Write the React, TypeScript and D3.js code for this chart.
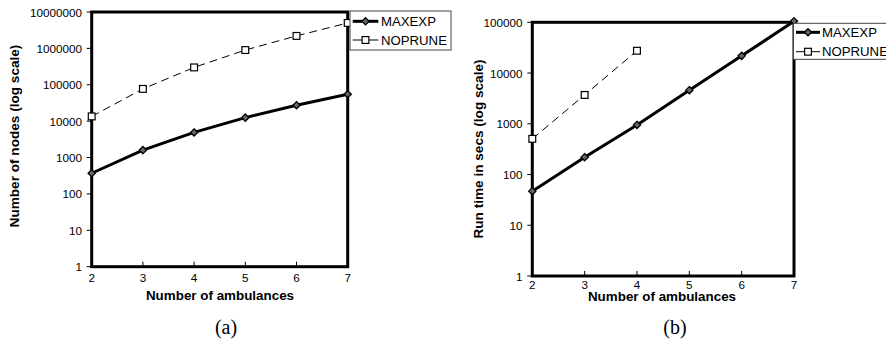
import React from "react";
import * as d3 from "d3";

const ambulances = [2, 3, 4, 5, 6, 7];
const ambulancesNopruneNodes = [2, 3, 4, 5, 6, 7];
const ambulancesNopruneTime = [2, 3, 4];
const nodesMaxexp = [370, 1600, 4900, 12500, 27500, 55000];
const nodesNoprune = [13500, 77000, 300000, 900000, 2200000, 5000000];
const timeMaxexp = [47, 220, 950, 4600, 21800, 105000];
const timeNoprune = [505, 3700, 27500];
const nodesTicks = [1, 10, 100, 1000, 10000, 100000, 1000000, 10000000];
const timeTicks = [1, 10, 100, 1000, 10000, 100000];
const seriesNames = ["MAXEXP", "NOPRUNE"];

const SANS = "Arial, 'Liberation Sans', sans-serif";
const SERIF = "'Times New Roman', 'Liberation Serif', serif";

function Diamond({ x, y }: { x: number; y: number }) {
  const s = 3.6;
  return (
    <path
      d={`M${x},${y - s}L${x + s},${y}L${x},${y + s}L${x - s},${y}Z`}
      fill="#666"
      stroke="#000"
      strokeWidth={1.3}
    />
  );
}

function Square({ x, y }: { x: number; y: number }) {
  const s = 3.4;
  return <rect x={x - s} y={y - s} width={2 * s} height={2 * s} fill="#fff" stroke="#000" strokeWidth={1.2} />;
}

type PanelProps = {
  x0: number; x1: number; yTop: number; yBot: number;
  yMax: number; ticks: number[];
  maxexp: number[]; noprune: number[]; nopruneX: number[];
  tickLabelRight: number; xLabelY: number;
  yTitle: string; yTitleX: number; yTitleY: number;
  xTitleX: number; xTitleY: number;
  caption: string; captionX: number;
  legend: { x: number; y: number; w: number; h: number; r1: number; r2: number; l0: number; l1: number; tx: number };
};

function Panel(p: PanelProps) {
  const x = d3.scaleLinear().domain([2, 7]).range([p.x0, p.x1]);
  const y = d3.scaleLog().domain([1, p.yMax]).range([p.yBot, p.yTop]);
  const lineM = d3.line<number>().x((_, i) => x(ambulances[i])).y((d) => y(d));
  const lineN = d3.line<number>().x((_, i) => x(p.nopruneX[i])).y((d) => y(d));
  const lg = p.legend;
  return (
    <g>
      {/* frame */}
      <rect x={p.x0} y={p.yTop} width={p.x1 - p.x0} height={p.yBot - p.yTop} fill="none" stroke="#000" strokeWidth={3} />
      {/* y ticks */}
      {p.ticks.map((t) => (
        <g key={t}>
          <line x1={p.x0 - 5} x2={p.x0} y1={y(t)} y2={y(t)} stroke="#000" strokeWidth={1} />
          <text x={p.tickLabelRight} y={y(t)} textAnchor="end" dominantBaseline="central" fontFamily={SANS} fontSize={11.7} fill="#000">
            {String(t)}
          </text>
        </g>
      ))}
      {/* x ticks */}
      {ambulances.map((a) => (
        <g key={a}>
          <line x1={x(a)} x2={x(a)} y1={p.yBot} y2={p.yBot - 5} stroke="#000" strokeWidth={1} />
          <text x={x(a)} y={p.xLabelY} textAnchor="middle" dominantBaseline="central" fontFamily={SANS} fontSize={11.7} fill="#000">
            {String(a)}
          </text>
        </g>
      ))}
      {/* series */}
      <path d={lineN(p.noprune) || ""} fill="none" stroke="#000" strokeWidth={1} strokeDasharray="8,5" />
      <path d={lineM(p.maxexp) || ""} fill="none" stroke="#000" strokeWidth={3} />
      {p.noprune.map((v, i) => <Square key={"n" + i} x={x(p.nopruneX[i])} y={y(v)} />)}
      {p.maxexp.map((v, i) => <Diamond key={"m" + i} x={x(ambulances[i])} y={y(v)} />)}
      {/* titles */}
      <text x={p.xTitleX} y={p.xTitleY} textAnchor="middle" dominantBaseline="central" fontFamily={SANS} fontWeight="bold" fontSize={13.4} fill="#000">
        Number of ambulances
      </text>
      <text transform={`translate(${p.yTitleX},${p.yTitleY}) rotate(-90)`} textAnchor="middle" dominantBaseline="central" fontFamily={SANS} fontWeight="bold" fontSize={13.6} fill="#000">
        {p.yTitle}
      </text>
      <text x={p.captionX} y={334} textAnchor="middle" fontFamily={SERIF} fontSize={20} fill="#000">
        {p.caption}
      </text>
      {/* legend */}
      <rect x={lg.x} y={lg.y} width={lg.w} height={lg.h} fill="#fff" stroke="#444" strokeWidth={1} />
      <line x1={lg.l0} x2={lg.l1} y1={lg.r1} y2={lg.r1} stroke="#000" strokeWidth={3} />
      <Diamond x={(lg.l0 + lg.l1) / 2} y={lg.r1} />
      <text x={lg.tx} y={lg.r1} dominantBaseline="central" fontFamily={SANS} fontSize={13.2} fill="#000">{seriesNames[0]}</text>
      <line x1={lg.l0} x2={lg.l1} y1={lg.r2} y2={lg.r2} stroke="#000" strokeWidth={1} />
      <Square x={(lg.l0 + lg.l1) / 2} y={lg.r2} />
      <text x={lg.tx} y={lg.r2} dominantBaseline="central" fontFamily={SANS} fontSize={13.2} fill="#000">{seriesNames[1]}</text>
    </g>
  );
}

export default function App() {
  return (
    <svg width={886} height={341} style={{ position: "absolute", left: 0, top: 0, background: "#fff" }}>
      <rect width={886} height={341} fill="#fff" />
      <Panel
        x0={91.7} x1={347.7} yTop={12} yBot={266.7} yMax={1e7} ticks={nodesTicks}
        maxexp={nodesMaxexp} noprune={nodesNoprune} nopruneX={ambulancesNopruneNodes}
        tickLabelRight={82} xLabelY={277.5}
        yTitle="Number of nodes (log scale)" yTitleX={14} yTitleY={136}
        xTitleX={220} xTitleY={295.5}
        caption="(a)" captionX={226}
        legend={{ x: 350, y: 11, w: 101, h: 39, r1: 21.3, r2: 40, l0: 352.7, l1: 378.3, tx: 381 }}
      />
      <Panel
        x0={532.3} x1={794} yTop={22.3} yBot={276} yMax={1e5} ticks={timeTicks}
        maxexp={timeMaxexp} noprune={timeNoprune} nopruneX={ambulancesNopruneTime}
        tickLabelRight={522.5} xLabelY={284}
        yTitle="Run time in secs (log scale)" yTitleX={478.3} yTitleY={149}
        xTitleX={662} xTitleY={296}
        caption="(b)" captionX={675}
        legend={{ x: 793.5, y: 23.3, w: 110, h: 36, r1: 32.3, r2: 51.7, l0: 796, l1: 820, tx: 822 }}
      />
    </svg>
  );
}
